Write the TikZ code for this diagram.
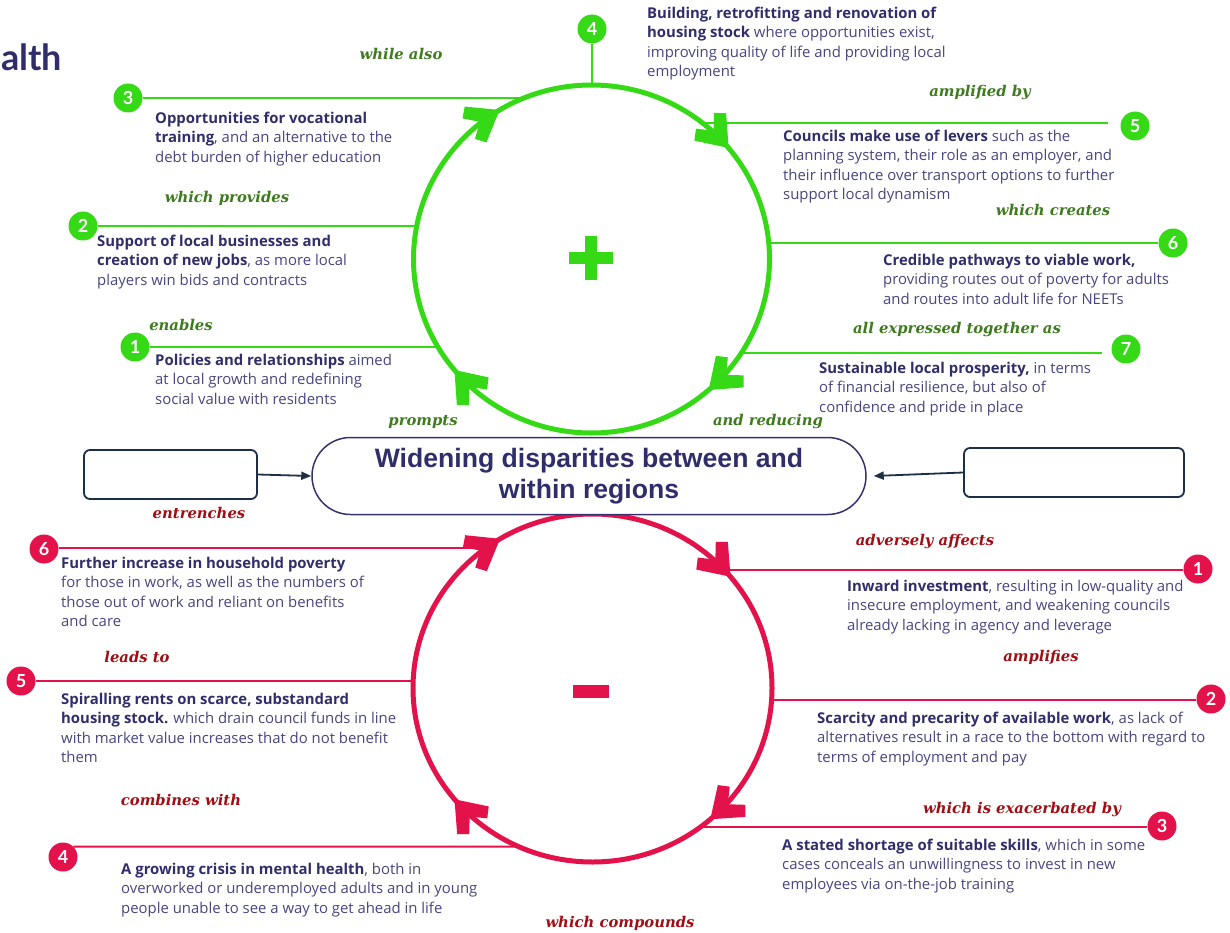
\documentclass[tikz,border=0pt]{standalone}
\usepackage{fontspec}
\usepackage{tikz}
\usetikzlibrary{arrows.meta,decorations.markings,shapes.misc}
\setmainfont{Open Sans}
\newfontfamily\headfont{Lato}
\newfontfamily\notefont{DejaVu Serif}
\newfontfamily\hubfont{Liberation Sans}
\definecolor{gcol}{RGB}{53,217,22}
\definecolor{rcol}{RGB}{228,18,75}
\definecolor{gnotecol}{RGB}{62,122,30}
\definecolor{rnotecol}{RGB}{160,14,20}
\definecolor{leadcol}{RGB}{48,46,106}
\definecolor{bodycol}{RGB}{72,70,128}
\definecolor{hubcol}{RGB}{53,50,110}
\definecolor{boxcol}{RGB}{28,47,70}
\newcommand{\keyphrase}[1]{\textcolor{leadcol}{\textbf{#1}}}
\newcommand{\loophead}{\fill (2,0) -- (-26,21) -- (-34,12) -- (-21,0) -- (-34,-12) -- (-26,-21) -- cycle;}

\begin{document}
\begin{tikzpicture}[x=1pt, y=1pt,
    gbadge/.style={circle, fill=gcol, text=white, font=\fontsize{18}{18}\selectfont\headfont\bfseries, minimum size=29pt, inner sep=0pt},
    rbadge/.style={gbadge, fill=rcol},
    gline/.style={draw=gcol, line width=2pt},
    rline/.style={draw=rcol, line width=2pt},
    blurb/.style={anchor=north west, align=left, inner sep=0pt, text=bodycol, font=\fontsize{14.9}{19.3}\selectfont},
    gnote/.style={anchor=base, inner sep=0pt, text=gnotecol, font=\fontsize{14.8}{18}\selectfont\notefont\bfseries\itshape},
    rnote/.style={gnote, text=rnotecol},
    blankbox/.style={draw=boxcol, line width=1.8pt, rounded corners=6pt, fill=white},
    pointer/.style={draw=boxcol, line width=1.8pt, -{Triangle[length=10pt, width=8pt]}}]
  \useasboundingbox (0,0) rectangle (1230,-933);
  \clip (0,0) rectangle (1230,-933);

  \node[anchor=base west, inner sep=0pt, text=leadcol, font=\fontsize{36}{36}\selectfont\headfont\bfseries] (heading) at (1,-71) {alth};

  \draw[color=gcol, line width=5pt, postaction={decorate}, decoration={markings,
      mark=at position 0.133 with {\loophead},
      mark=at position 0.389 with {\loophead},
      mark=at position 0.661 with {\loophead},
      mark=at position 0.889 with {\loophead}}]
    (769.5,-259) arc[start angle=360, end angle=0, x radius=178pt, y radius=174pt];
  \fill[gcol] (569,-252) rectangle (613,-264);
  \fill[gcol] (585,-236) rectangle (597,-280);

  \draw[color=rcol, line width=5pt, postaction={decorate}, decoration={markings,
      mark=at position 0.133 with {\loophead},
      mark=at position 0.389 with {\loophead},
      mark=at position 0.661 with {\loophead},
      mark=at position 0.889 with {\loophead}}]
    (772,-688) arc[start angle=360, end angle=0, x radius=179.5pt, y radius=174pt];
  \fill[rcol] (573,-685) rectangle (609,-698);

  \node[gbadge] (g1) at (135,-347) {1};
  \node[gbadge] (g2) at (83,-226) {2};
  \node[gbadge] (g3) at (128,-98) {3};
  \node[gbadge] (g4) at (592,-29) {4};
  \node[gbadge] (g5) at (1135,-126) {5};
  \node[gbadge] (g6) at (1173,-243) {6};
  \node[gbadge] (g7) at (1126,-349) {7};
  \coordinate (g1c) at (438,-347);
  \coordinate (g2c) at (417,-226);
  \coordinate (g3c) at (524,-98);
  \coordinate (g4c) at (592,-85);
  \coordinate (g5c) at (702,-123);
  \coordinate (g6c) at (768,-243);
  \coordinate (g7c) at (741,-353);
  \draw[gline] (g1) -- (g1c);
  \draw[gline] (g2) -- (g2c);
  \draw[gline] (g3) -- (g3c);
  \draw[gline] (g4) -- (g4c);
  \draw[gline] (g5c) -- ([xshift=-12pt]g5c -| g5.west);
  \draw[gline] (g6c) -- (g6);
  \draw[gline] (g7c) -- ([xshift=-9pt]g7c -| g7.west);

  \node[rbadge] (r1) at (1198,-569) {1};
  \node[rbadge] (r2) at (1211,-699) {2};
  \node[rbadge] (r3) at (1162,-826) {3};
  \node[rbadge] (r4) at (63,-857) {4};
  \node[rbadge] (r5) at (21,-681) {5};
  \node[rbadge] (r6) at (44,-549) {6};
  \coordinate (r1c) at (724,-570);
  \coordinate (r2c) at (772,-700);
  \coordinate (r3c) at (700,-827);
  \coordinate (r4c) at (519,-846.5);
  \coordinate (r5c) at (413,-681);
  \coordinate (r6c) at (486,-548);
  \draw[rline] (r1c) -- (r1c -| r1.west);
  \draw[rline] (r2c) -- (r2c -| r2.west);
  \draw[rline] (r3c) -- (r3c -| r3.west);
  \draw[rline] (r4.north east) -- (r4c);
  \draw[rline] (r5) -- (r5c);
  \draw[rline] (r6c -| r6.east) -- (r6c);

  \node[rounded rectangle, draw=hubcol, line width=1.5pt, fill=white, minimum width=554pt, minimum height=77pt, inner sep=0pt, align=center, text=leadcol, font=\fontsize{26.6}{31}\selectfont\hubfont\bfseries] (hub) at (589,-476) {Widening disparities between and\\within regions};
  \node[blankbox, minimum width=173pt, minimum height=49pt] (lbox) at (170.5,-474.5) {};
  \node[blankbox, minimum width=220pt, minimum height=49pt] (rbox) at (1074,-472.5) {};
  \draw[pointer] (lbox.east) -- (hub.west);
  \draw[pointer] (rbox.west) -- ([xshift=7pt]hub.east);

  \node[blurb] (b1) at (155,-354) {\keyphrase{Policies and relationships} aimed\\at local growth and redefining\\social value with residents};
  \node[blurb] (b2) at (97,-235) {\keyphrase{Support of local businesses and}\\\keyphrase{creation of new jobs}, as more local\\players win bids and contracts};
  \node[blurb] (b3) at (155,-112) {\keyphrase{Opportunities for vocational}\\\keyphrase{training}, and an alternative to the\\debt burden of higher education};
  \node[blurb] (b4) at (647,-7) {\keyphrase{Building, retrofitting and renovation of}\\\keyphrase{housing stock} where opportunities exist,\\improving quality of life and providing local\\employment};
  \node[blurb] (b5) at (783,-130) {\keyphrase{Councils make use of levers} such as the\\planning system, their role as an employer, and\\their influence over transport options to further\\support local dynamism};
  \node[blurb] (b6) at (883,-254) {\keyphrase{Credible pathways to viable work,}\\providing routes out of poverty for adults\\and routes into adult life for NEETs};
  \node[blurb] (b7) at (819,-362) {\keyphrase{Sustainable local prosperity,} in terms\\of financial resilience, but also of\\confidence and pride in place};

  \node[blurb] (d1) at (847,-580) {\keyphrase{Inward investment}, resulting in low-quality and\\insecure employment, and weakening councils\\already lacking in agency and leverage};
  \node[blurb] (d2) at (817,-712) {\keyphrase{Scarcity and precarity of available work}, as lack of\\alternatives result in a race to the bottom with regard to\\terms of employment and pay};
  \node[blurb] (d3) at (782,-839) {\keyphrase{A stated shortage of suitable skills}, which in some\\cases conceals an unwillingness to invest in new\\employees via on-the-job training};
  \node[blurb] (d4) at (121,-863) {\keyphrase{A growing crisis in mental health}, both in\\overworked or underemployed adults and in young\\people unable to see a way to get ahead in life};
  \node[blurb] (d5) at (61,-693) {\keyphrase{Spiralling rents on scarce, substandard}\\\keyphrase{housing stock.} which drain council funds in line\\with market value increases that do not benefit\\them};
  \node[blurb] (d6) at (61,-557) {\keyphrase{Further increase in household poverty}\\for those in work, as well as the numbers of\\those out of work and reliant on benefits\\and care};

  \node[gnote] (n1) at (401,-60) {while also};
  \node[gnote] (n2) at (980,-97) {amplified by};
  \node[gnote] (n3) at (227,-203) {which provides};
  \node[gnote] (n4) at (1053,-215) {which creates};
  \node[gnote] (n5) at (181,-330) {enables};
  \node[gnote] (n6) at (957,-333) {all expressed together as};
  \node[gnote] (n7) at (423,-425) {prompts};
  \node[gnote] (n8) at (768,-425) {and reducing};

  \node[rnote] (m1) at (199,-518) {entrenches};
  \node[rnote] (m2) at (925,-545) {adversely affects};
  \node[rnote] (m3) at (137,-662) {leads to};
  \node[rnote] (m4) at (1041,-661) {amplifies};
  \node[rnote] (m5) at (181,-805) {combines with};
  \node[rnote] (m6) at (1022,-813) {which is exacerbated by};
  \node[rnote] (m7) at (620,-927) {which compounds};
\end{tikzpicture}
\end{document}
